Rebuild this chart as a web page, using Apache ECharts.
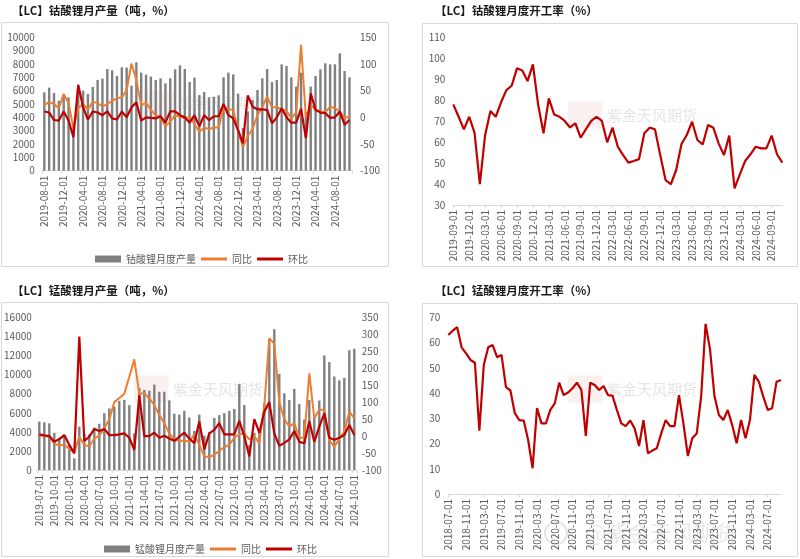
<!DOCTYPE html>
<html><head><meta charset="utf-8">
<script src="https://cdn.jsdelivr.net/npm/echarts@6/dist/echarts.min.js"></script>
<style>html,body{margin:0;padding:0;background:#fff}#c{width:800px;height:559px}</style>
</head><body><div id="c"></div>
<script>
function months(y, m, n) {
  var out = [];
  for (var i = 0; i < n; i++) {
    var yy = y + Math.floor((m - 1 + i) / 12), mm = ((m - 1 + i) % 12) + 1;
    out.push(yy + '-' + (mm < 10 ? '0' : '') + mm + '-01');
  }
  return out;
}
// Panel 1: 钴酸锂月产量 (2019-08 .. 2024-11)
var coCats = months(2019, 8, 64);
var coProd = [5875,6225,5825,5250,5700,5500,3600,6050,6000,5750,6275,6800,6900,7625,7525,7100,7750,7725,6375,8125,7350,7200,7050,6800,6925,6550,6925,7600,7900,7625,6650,6975,5675,5900,5500,5550,5650,7000,7350,7225,5775,3200,4450,5300,6050,6925,7625,6650,6800,7975,7850,7000,6300,7350,4400,6300,7100,7600,8050,7975,7975,8800,7475,7000];
var coYoY = [23,29,25,17,44,27,-20,17,25,15,29,27,20,25,31,36,37,51,101,70,23,27,14,4,0,-17,-8,4,1,-2,1,-13,-27,-19,-22,-19,-19,19,15,14,-24,-56,-35,-22,4,19,39,19,19,15,12,-2,9,136,0,23,14,11,9,20,17,11,-2,2];
var coMoM = [11,9,-5,-6,11,-6,-37,61,19,-4,11,9,4,11,-2,-4,11,0,19,28,-6,0,-1,-2,2,-10,11,11,4,0,-10,4,-17,4,-5,2,2,25,4,-2,-24,-49,41,20,15,15,14,-11,0,17,0,-10,-10,16,-39,45,14,9,8,-1,0,11,-14,-5];
// Panel 2: 钴酸锂月度开工率 (2019-09 .. 2024-11)
var coRateCats = months(2019, 9, 63);
var coRate = [78.0,72.1,66.1,72.1,64.5,39.9,63.4,74.8,72.1,79.0,84.8,86.9,95.2,94.2,89.1,97.1,77.7,64.2,80.9,73.2,72.1,70.1,67.0,69.0,62.1,66.2,70.1,72.1,70.1,59.9,66.9,57.8,53.8,50.2,51.0,51.9,64.2,66.9,66.1,53.8,41.9,39.9,46.7,59.1,63.4,69.7,61.0,58.9,68.2,66.9,59.4,53.8,63.1,37.9,44.6,51.0,54.2,57.8,57.0,57.0,63.1,54.2,50.2];
// Panel 3: 锰酸锂月产量 (2019-07 .. 2024-10)
var mnCats = months(2019, 7, 64);
var mnProd = [5070,5000,4890,3900,3400,3450,2600,1220,4550,3800,3750,4450,4850,5950,6450,6650,7250,7350,6800,3850,8600,8400,8300,8950,8200,8200,7300,5900,5800,6200,5500,4100,5800,3600,4000,5450,5750,5950,6200,6400,9000,6800,2600,3900,4300,7000,13700,14750,10070,8040,7340,8500,6920,5300,7340,5800,7270,12000,11300,9800,9400,9650,12550,12700];
var mnYoY = [2,0,-2,-22,-28,-25,-38,-48,-2,-26,-30,-8,2,22,50,100,112,125,175,226,125,126,111,91,62,38,8,-11,-14,-14,-16,5,-26,-60,-62,-55,-43,-33,-25,-5,5,8,-10,0,-22,90,288,272,100,50,28,38,-5,-5,185,52,78,77,-12,-32,-8,13,72,52];
var mnMoM = [5,2,0,-17,-9,3,-26,-51,293,-14,-2,21,15,21,3,3,5,8,-5,-41,120,0,0,10,-5,1,-7,-14,-2,10,-7,-21,43,-39,8,18,38,5,5,5,45,0,-60,50,10,72,100,8,-29,-20,-10,15,-17,-21,44,-17,28,67,-5,-11,-5,3,33,3];
// Panel 4: 锰酸锂月度开工率 (2018-07 .. 2024-10)
var mnRateCats = months(2018, 7, 76);
var mnRate = [63.0,64.7,66.1,58.1,55.7,53.1,52.0,25.1,51.1,58.1,59.0,54.2,55.1,42.3,41.0,32.0,29.3,29.1,21.4,10.2,34.0,28.0,28.0,33.3,35.9,44.1,39.2,40.2,41.9,44.1,41.2,23.0,44.1,43.2,41.2,42.8,39.2,39.0,33.3,28.0,26.9,29.1,26.0,19.0,29.3,16.1,17.2,18.1,24.0,29.3,26.9,26.9,39.2,28.0,15.1,22.1,24.0,38.6,67.4,57.3,38.8,31.3,29.3,33.3,27.3,20.1,29.3,22.1,29.3,47.2,44.5,38.6,33.3,34.0,44.5,45.2];

var FONT = '"Noto Sans CJK SC","Noto Sans",sans-serif';
var GRAY = '#595959', BAR = '#808080', ORANGE = '#ED7D31', RED = '#C00000';
var lab = {color: GRAY, fontSize: 10, fontFamily: FONT};

function xAx(grid, data, interval, gap) {
  return {type: 'category', gridIndex: grid, data: data, boundaryGap: gap,
    axisLine: {lineStyle: {color: '#d9d9d9'}},
    axisTick: {show: true, interval: interval, length: 3, lineStyle: {color: '#d9d9d9'}},
    axisLabel: Object.assign({rotate: 90, interval: interval, margin: 5}, lab)};
}
function yAx(grid, min, max, step, pos, margin) {
  return {type: 'value', gridIndex: grid, min: min, max: max, interval: step, position: pos,
    splitLine: {show: false}, axisLine: {show: false}, axisTick: {show: false},
    axisLabel: Object.assign({margin: margin, formatter: function (v) { return String(v); }}, lab)};
}
function ttl(text, left, top) {
  return {text: text, left: left, top: top, padding: 0,
    textStyle: {fontSize: 11.5, fontWeight: 'bold', color: '#1a1a1a', fontFamily: FONT}};
}
var lineIcon = 'path://M0 0H26V3H0Z';
function legend(barName, left, top) {
  return {left: left, top: top, itemWidth: 26, itemHeight: 7, itemGap: 5,
    textStyle: {color: GRAY, fontSize: 10, fontFamily: FONT},
    data: [{name: barName, icon: 'rect'}, {name: '同比', icon: lineIcon}, {name: '环比', icon: lineIcon}]};
}
function wm(x, y, size) {
  return [
    {type: 'rect', shape: {x: x - size * 2.6, y: y - size * 0.9, width: size * 2.3, height: size * 1.8},
      style: {fill: 'rgba(225,150,150,0.14)'}, silent: true},
    {type: 'text', x: x, y: y, style: {text: '紫金天风期货', fontSize: size, fontFamily: FONT,
      fill: 'rgba(170,170,170,0.3)', verticalAlign: 'middle'}, silent: true}
  ];
}
function box(x, y, w, h) {
  return {type: 'rect', shape: {x: x, y: y, width: w, height: h},
    style: {fill: 'none', stroke: '#d9d9d9', lineWidth: 1}, silent: true};
}

var chart = echarts.init(document.getElementById('c'));
chart.setOption({
  animation: false,
  backgroundColor: '#fff',
  title: [
    ttl('【LC】钴酸锂月产量（吨，%）', 12, 5),
    ttl('【LC】钴酸锂月度开工率（%）', 435, 5),
    ttl('【LC】锰酸锂月产量（吨，%）', 12, 285),
    ttl('【LC】锰酸锂月度开工率（%）', 435, 285)
  ],
  legend: [legend('钴酸锂月度产量', 90, 249), legend('锰酸锂月度产量', 99, 539)],
  graphic: [
    box(1.5, 22.5, 387, 244), box(422.5, 23.5, 375, 243),
    box(1.5, 302.5, 387, 254), box(422.5, 303.5, 375, 253)
  ].concat(wm(180, 103, 14), wm(607, 115, 15), wm(173, 389, 15), wm(607, 389, 15), [
    {type: 'text', x: 585, y: 533, style: {text: '@紫金天风期货', fontSize: 22, fontFamily: FONT,
      fill: 'rgba(150,150,150,0.22)', verticalAlign: 'middle'}, silent: true},
    {type: 'circle', shape: {cx: 556, cy: 533, r: 11}, style: {fill: 'none', stroke: 'rgba(150,150,150,0.25)', lineWidth: 2}, silent: true}
  ]),
  grid: [
    {left: 41.9, top: 37.3, width: 310, height: 133.4},
    {left: 453.3, top: 37.3, width: 329, height: 167.7},
    {left: 36.8, top: 317.3, width: 320, height: 152.7},
    {left: 448.3, top: 317.3, width: 332.7, height: 176.7}
  ],
  xAxis: [
    xAx(0, coCats, 3, true),
    xAx(1, coRateCats, 2, false),
    xAx(2, mnCats, 2, true),
    xAx(3, mnRateCats, 3, false)
  ],
  yAxis: [
    yAx(0, 0, 10000, 1000, 'left', 7),
    yAx(0, -100, 150, 50, 'right', 8),
    yAx(1, 30, 110, 10, 'left', 8),
    yAx(2, 0, 16000, 2000, 'left', 5),
    yAx(2, -100, 350, 50, 'right', 5),
    yAx(3, 0, 70, 10, 'left', 8)
  ],
  series: [
    {name: '钴酸锂月度产量', type: 'bar', xAxisIndex: 0, yAxisIndex: 0, data: coProd, barWidth: 2.4,
      itemStyle: {color: BAR}},
    {name: '同比', type: 'line', xAxisIndex: 0, yAxisIndex: 1, data: coYoY, symbol: 'none',
      itemStyle: {color: ORANGE}, lineStyle: {color: ORANGE, width: 2}},
    {name: '环比', type: 'line', xAxisIndex: 0, yAxisIndex: 1, data: coMoM, symbol: 'none',
      itemStyle: {color: RED}, lineStyle: {color: RED, width: 2.2}},
    {name: '开工率1', type: 'line', xAxisIndex: 1, yAxisIndex: 2, data: coRate, symbol: 'none',
      itemStyle: {color: RED}, lineStyle: {color: RED, width: 2.2}},
    {name: '锰酸锂月度产量', type: 'bar', xAxisIndex: 2, yAxisIndex: 3, data: mnProd, barWidth: 2.4,
      itemStyle: {color: BAR}},
    {name: '同比', type: 'line', xAxisIndex: 2, yAxisIndex: 4, data: mnYoY, symbol: 'none',
      itemStyle: {color: ORANGE}, lineStyle: {color: ORANGE, width: 2}},
    {name: '环比', type: 'line', xAxisIndex: 2, yAxisIndex: 4, data: mnMoM, symbol: 'none',
      itemStyle: {color: RED}, lineStyle: {color: RED, width: 2.2}},
    {name: '开工率2', type: 'line', xAxisIndex: 3, yAxisIndex: 5, data: mnRate, symbol: 'none',
      itemStyle: {color: RED}, lineStyle: {color: RED, width: 2.2}}
  ]
});
</script></body></html>
